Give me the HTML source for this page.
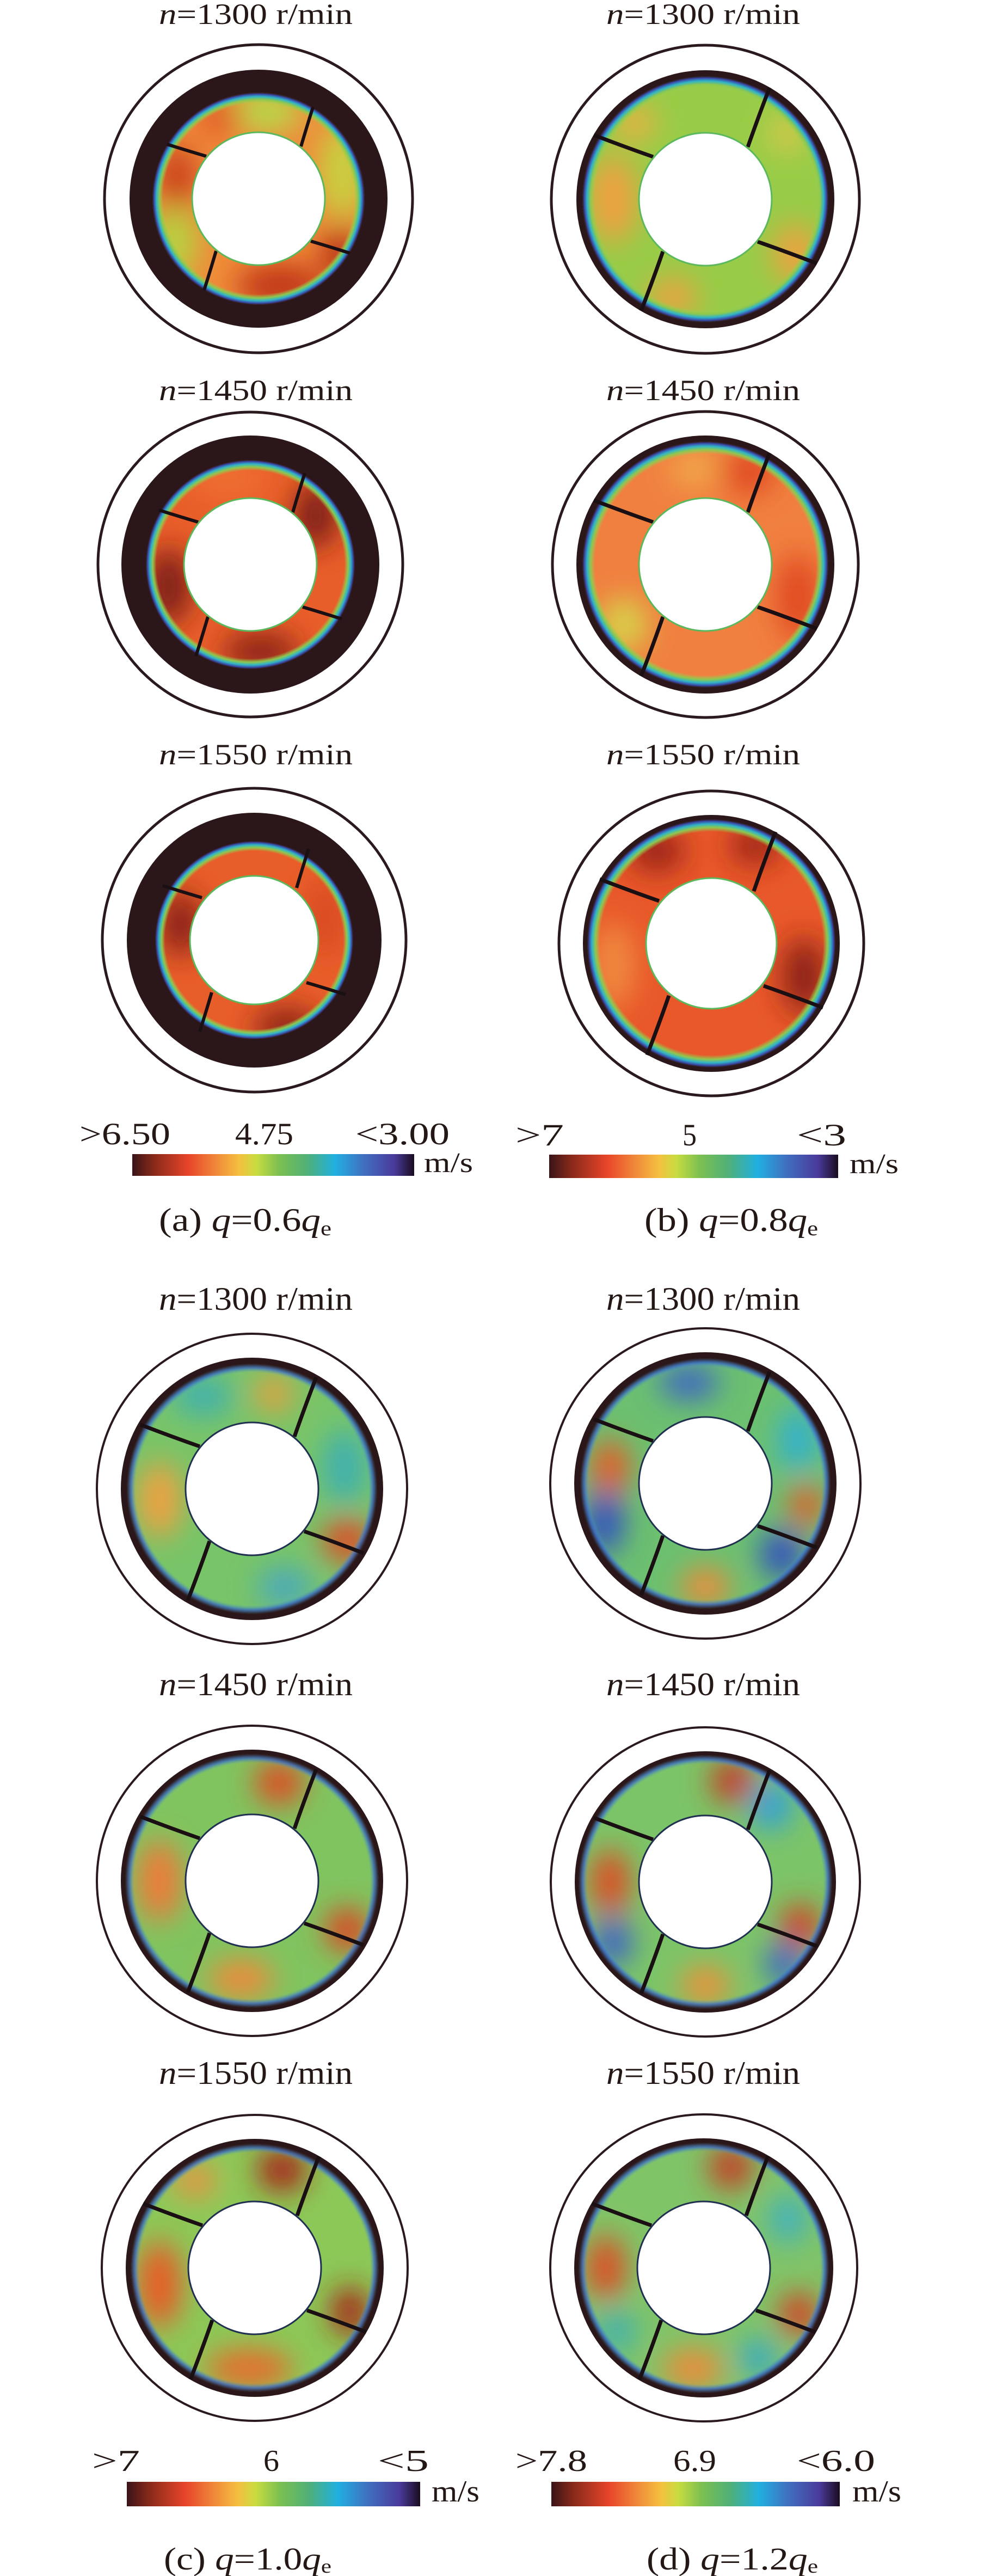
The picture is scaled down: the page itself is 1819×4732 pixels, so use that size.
<!DOCTYPE html>
<html><head><meta charset="utf-8"><style>html,body{margin:0;padding:0;background:#fff}svg{display:block}</style></head>
<body>
<svg width="1819" height="4732" viewBox="0 0 1819 4732" xmlns="http://www.w3.org/2000/svg" font-family="Liberation Serif, serif" fill="#231815">
<defs>
<filter id="bl" x="-60%" y="-60%" width="220%" height="220%"><feGaussianBlur stdDeviation="26"/></filter>
<radialGradient id="rim" cx="0.5" cy="0.5" r="0.5">
<stop offset="0.90" stop-color="#9ad050" stop-opacity="0"/>
<stop offset="0.935" stop-color="#8cc850" stop-opacity="1"/>
<stop offset="0.962" stop-color="#30b4c8"/>
<stop offset="0.985" stop-color="#3a4aa8"/>
<stop offset="1" stop-color="#2b1719"/>
</radialGradient>
<radialGradient id="rim2" cx="0.5" cy="0.5" r="0.5">
<stop offset="0.93" stop-color="#50a0c0" stop-opacity="0"/>
<stop offset="0.965" stop-color="#3a6ac0" stop-opacity="0.8"/>
<stop offset="1" stop-color="#2b1719"/>
</radialGradient>
<linearGradient id="cb" x1="0" x2="1" y1="0" y2="0">
<stop offset="0" stop-color="#3a1418"/><stop offset="0.08" stop-color="#8b2a1a"/><stop offset="0.2" stop-color="#e8452a"/>
<stop offset="0.3" stop-color="#f08a3a"/><stop offset="0.38" stop-color="#f5c040"/><stop offset="0.44" stop-color="#c8dc40"/>
<stop offset="0.52" stop-color="#7cc050"/><stop offset="0.62" stop-color="#50b078"/><stop offset="0.72" stop-color="#20b0e0"/>
<stop offset="0.82" stop-color="#4070c0"/><stop offset="0.93" stop-color="#4a3a9a"/><stop offset="1" stop-color="#1a0c20"/>
</linearGradient>
<clipPath id="k182"><circle r="182"/></clipPath>
<clipPath id="k192"><circle r="192"/></clipPath>
<clipPath id="k195"><circle r="195"/></clipPath>
<clipPath id="k226"><circle r="226"/></clipPath>
<clipPath id="k228"><circle r="228"/></clipPath>
<clipPath id="k230"><circle r="230"/></clipPath>
<clipPath id="k233"><circle r="233"/></clipPath>
<path id="blade" d="M78,-96 Q95,-145 118,-205" fill="none" stroke="#1a0f12" stroke-width="7"/>
<path id="bladeS" d="M78,-96 Q88,-130 100,-168" fill="none" stroke="#1a0f12" stroke-width="6"/>
<g id="blades"><use href="#blade"/><use href="#blade" transform="rotate(90)"/><use href="#blade" transform="rotate(180)"/><use href="#blade" transform="rotate(270)"/></g>
<g id="bladesS"><use href="#bladeS"/><use href="#bladeS" transform="rotate(90)"/><use href="#bladeS" transform="rotate(180)"/><use href="#bladeS" transform="rotate(270)"/></g>
</defs>

<g font-size="54">
<text x="292" y="44" textLength="356" lengthAdjust="spacingAndGlyphs"><tspan font-style="italic">n</tspan>=1300 r/min</text>
<text x="1114" y="44" textLength="356" lengthAdjust="spacingAndGlyphs"><tspan font-style="italic">n</tspan>=1300 r/min</text>
<text x="292" y="735" textLength="356" lengthAdjust="spacingAndGlyphs"><tspan font-style="italic">n</tspan>=1450 r/min</text>
<text x="1114" y="735" textLength="356" lengthAdjust="spacingAndGlyphs"><tspan font-style="italic">n</tspan>=1450 r/min</text>
<text x="292" y="1404" textLength="356" lengthAdjust="spacingAndGlyphs"><tspan font-style="italic">n</tspan>=1550 r/min</text>
<text x="1114" y="1404" textLength="356" lengthAdjust="spacingAndGlyphs"><tspan font-style="italic">n</tspan>=1550 r/min</text>
</g>

<!-- a1 -->
<g transform="translate(475,365)">
<circle r="283" fill="#fff" stroke="#2a1a1e" stroke-width="5"/><circle r="237" fill="#2b1719"/>
<g clip-path="url(#k195)"><circle r="195" fill="#f08a3a"/>
<g filter="url(#bl)"><ellipse cx="10" cy="-160" rx="70" ry="40" fill="#b8d848"/><ellipse cx="155" cy="-50" rx="45" ry="90" fill="#c8d040"/><ellipse cx="-155" cy="80" rx="45" ry="70" fill="#b8d040"/><ellipse cx="-150" cy="-40" rx="35" ry="60" fill="#c8401e"/><ellipse cx="40" cy="160" rx="80" ry="40" fill="#c03418"/><ellipse cx="150" cy="100" rx="35" ry="50" fill="#b83016"/><ellipse cx="-70" cy="-150" rx="40" ry="35" fill="#e05a26"/></g></g>
<circle r="195" fill="url(#rim)"/><use href="#bladesS"/>
<circle r="122" fill="#fff" stroke="#5cb85c" stroke-width="3"/></g>
<!-- b1 -->
<g transform="translate(1296,366)">
<circle r="283" fill="#fff" stroke="#2a1a1e" stroke-width="5"/><circle r="237" fill="#2b1719"/>
<g clip-path="url(#k226)"><circle r="226" fill="#98cc48"/>
<g filter="url(#bl)"><ellipse cx="-170" cy="0" rx="45" ry="80" fill="#f0a040"/><ellipse cx="165" cy="100" rx="40" ry="55" fill="#f0a040"/><ellipse cx="-60" cy="180" rx="45" ry="35" fill="#f0a040"/><ellipse cx="-130" cy="-140" rx="40" ry="35" fill="#e8b040"/><ellipse cx="150" cy="-120" rx="35" ry="35" fill="#d8c848"/></g></g>
<circle r="226" fill="url(#rim)"/><use href="#blades"/>
<circle r="122" fill="#fff" stroke="#5cb85c" stroke-width="3"/></g>
<!-- a2 -->
<g transform="translate(460,1037)">
<circle r="280" fill="#fff" stroke="#2a1a1e" stroke-width="5"/><circle r="237" fill="#2b1719"/>
<g clip-path="url(#k192)"><circle r="192" fill="#e85e2a"/>
<g filter="url(#bl)"><ellipse cx="-150" cy="40" rx="40" ry="70" fill="#7a1a14"/><ellipse cx="120" cy="-90" rx="40" ry="60" fill="#7a1a14"/><ellipse cx="20" cy="160" rx="70" ry="35" fill="#8a2016"/><ellipse cx="-40" cy="-160" rx="70" ry="35" fill="#f07030"/></g></g>
<circle r="192" fill="url(#rim)"/><use href="#bladesS"/>
<circle r="122" fill="#fff" stroke="#5cb85c" stroke-width="3"/></g>
<!-- b2 -->
<g transform="translate(1296,1037)">
<circle r="281" fill="#fff" stroke="#2a1a1e" stroke-width="5"/><circle r="237" fill="#2b1719"/>
<g clip-path="url(#k226)"><circle r="226" fill="#f08040"/>
<g filter="url(#bl)"><ellipse cx="170" cy="60" rx="40" ry="80" fill="#e04a24"/><ellipse cx="80" cy="-170" rx="50" ry="40" fill="#e04a24"/><ellipse cx="-150" cy="110" rx="45" ry="50" fill="#d8d048"/><ellipse cx="-20" cy="-175" rx="45" ry="35" fill="#f0a848"/></g></g>
<circle r="226" fill="url(#rim)"/><use href="#blades"/>
<circle r="122" fill="#fff" stroke="#5cb85c" stroke-width="3"/></g>
<!-- a3 -->
<g transform="translate(467,1727)">
<circle r="279" fill="#fff" stroke="#2a1a1e" stroke-width="5"/><circle r="234" fill="#2b1719"/>
<g clip-path="url(#k182)"><circle r="182" fill="#e85e2a"/>
<g filter="url(#bl)"><ellipse cx="-135" cy="-30" rx="40" ry="60" fill="#8a2016"/><ellipse cx="60" cy="160" rx="60" ry="35" fill="#8a2016"/><ellipse cx="130" cy="-40" rx="35" ry="70" fill="#d84a22"/></g></g>
<circle r="182" fill="url(#rim)"/><use href="#bladesS"/>
<circle r="118" fill="#fff" stroke="#5cb85c" stroke-width="3"/></g>
<!-- b3 -->
<g transform="translate(1307,1733)">
<circle r="280" fill="#fff" stroke="#2a1a1e" stroke-width="5"/><circle r="236" fill="#2b1719"/>
<g clip-path="url(#k228)"><circle r="228" fill="#e8582a"/>
<g filter="url(#bl)"><ellipse cx="170" cy="60" rx="40" ry="70" fill="#8a2014"/><ellipse cx="-100" cy="-170" rx="50" ry="40" fill="#9a2414"/><ellipse cx="80" cy="-180" rx="45" ry="35" fill="#9a2414"/><ellipse cx="-180" cy="40" rx="40" ry="80" fill="#f08a40"/></g></g>
<circle r="228" fill="url(#rim)"/><use href="#blades"/>
<circle r="120" fill="#fff" stroke="#5cb85c" stroke-width="3"/></g>

<rect x="243" y="2120" width="518" height="40" fill="url(#cb)"/>
<rect x="1009" y="2121" width="531" height="43" fill="url(#cb)"/>
<g font-size="57">
<text x="146" y="2102" textLength="167" lengthAdjust="spacingAndGlyphs">&gt;6.50</text>
<text x="432" y="2102" textLength="107" lengthAdjust="spacingAndGlyphs">4.75</text>
<text x="653" y="2102" textLength="173" lengthAdjust="spacingAndGlyphs">&lt;3.00</text>
<text x="947" y="2104" textLength="89" lengthAdjust="spacingAndGlyphs">&gt;7</text>
<text x="1254" y="2104" textLength="26" lengthAdjust="spacingAndGlyphs">5</text>
<text x="1464" y="2104" textLength="91" lengthAdjust="spacingAndGlyphs">&lt;3</text>
</g>
<g font-size="52">
<text x="779" y="2153" textLength="90" lengthAdjust="spacingAndGlyphs">m/s</text>
<text x="1561" y="2155" textLength="90" lengthAdjust="spacingAndGlyphs">m/s</text>
</g>
<g font-size="60">
<text x="292" y="2261" textLength="317" lengthAdjust="spacingAndGlyphs">(a) <tspan font-style="italic">q</tspan>=0.6<tspan font-style="italic">q</tspan><tspan font-size="38" dy="8">e</tspan></text>
<text x="1184" y="2261" textLength="319" lengthAdjust="spacingAndGlyphs">(b) <tspan font-style="italic">q</tspan>=0.8<tspan font-style="italic">q</tspan><tspan font-size="38" dy="8">e</tspan></text>
</g>

<g font-size="60">
<text x="292" y="2406" textLength="356" lengthAdjust="spacingAndGlyphs"><tspan font-style="italic">n</tspan>=1300 r/min</text>
<text x="1114" y="2406" textLength="356" lengthAdjust="spacingAndGlyphs"><tspan font-style="italic">n</tspan>=1300 r/min</text>
<text x="292" y="3114" textLength="356" lengthAdjust="spacingAndGlyphs"><tspan font-style="italic">n</tspan>=1450 r/min</text>
<text x="1114" y="3114" textLength="356" lengthAdjust="spacingAndGlyphs"><tspan font-style="italic">n</tspan>=1450 r/min</text>
<text x="292" y="3828" textLength="356" lengthAdjust="spacingAndGlyphs"><tspan font-style="italic">n</tspan>=1550 r/min</text>
<text x="1114" y="3828" textLength="356" lengthAdjust="spacingAndGlyphs"><tspan font-style="italic">n</tspan>=1550 r/min</text>
</g>

<!-- c1 -->
<g transform="translate(463,2735)">
<circle r="285" fill="#fff" stroke="#2a1a1e" stroke-width="4"/><circle r="241" fill="#2b1719"/>
<g clip-path="url(#k230)"><circle r="230" fill="#78c468"/>
<g filter="url(#bl)"><ellipse cx="170" cy="-40" rx="40" ry="70" fill="#40b0b0"/><ellipse cx="-90" cy="-170" rx="55" ry="35" fill="#40b0b0"/><ellipse cx="-170" cy="20" rx="40" ry="70" fill="#f0a040"/><ellipse cx="175" cy="95" rx="45" ry="40" fill="#e04a28"/><ellipse cx="60" cy="180" rx="50" ry="35" fill="#48a8c0"/><ellipse cx="40" cy="-175" rx="35" ry="35" fill="#e8a040"/></g></g>
<circle r="230" fill="url(#rim2)"/><use href="#blades"/>
<circle r="122" fill="#fff" stroke="#203050" stroke-width="3"/></g>
<!-- d1 -->
<g transform="translate(1296,2725)">
<circle r="285" fill="#fff" stroke="#2a1a1e" stroke-width="4"/><circle r="241" fill="#2b1719"/>
<g clip-path="url(#k230)"><circle r="230" fill="#6cc070"/>
<g filter="url(#bl)"><ellipse cx="-185" cy="70" rx="35" ry="60" fill="#3050c0"/><ellipse cx="140" cy="130" rx="40" ry="45" fill="#3050c0"/><ellipse cx="-30" cy="-185" rx="55" ry="30" fill="#3a60c8"/><ellipse cx="170" cy="-80" rx="35" ry="60" fill="#30b0d0"/><ellipse cx="-175" cy="-30" rx="35" ry="50" fill="#e85a28"/><ellipse cx="185" cy="40" rx="30" ry="40" fill="#e85a28"/><ellipse cx="0" cy="190" rx="45" ry="35" fill="#f08a38"/></g></g>
<circle r="230" fill="url(#rim2)"/><use href="#blades"/>
<circle r="122" fill="#fff" stroke="#203050" stroke-width="3"/></g>
<!-- c2 -->
<g transform="translate(463,3455)">
<circle r="285" fill="#fff" stroke="#2a1a1e" stroke-width="4"/><circle r="241" fill="#2b1719"/>
<g clip-path="url(#k233)"><circle r="233" fill="#80c460"/>
<g filter="url(#bl)"><ellipse cx="50" cy="-180" rx="45" ry="40" fill="#e04a24"/><ellipse cx="175" cy="90" rx="40" ry="40" fill="#e04020"/><ellipse cx="-170" cy="0" rx="40" ry="75" fill="#f07838"/><ellipse cx="-20" cy="180" rx="60" ry="35" fill="#f08838"/></g></g>
<circle r="233" fill="url(#rim2)"/><use href="#blades"/>
<circle r="122" fill="#fff" stroke="#203050" stroke-width="3"/></g>
<!-- d2 -->
<g transform="translate(1296,3457)">
<circle r="284" fill="#fff" stroke="#2a1a1e" stroke-width="4"/><circle r="240" fill="#2b1719"/>
<g clip-path="url(#k233)"><circle r="233" fill="#7cc468"/>
<g filter="url(#bl)"><ellipse cx="-175" cy="0" rx="35" ry="60" fill="#e04a24"/><ellipse cx="50" cy="-185" rx="40" ry="40" fill="#c83820"/><ellipse cx="175" cy="80" rx="35" ry="40" fill="#d83a20"/><ellipse cx="-170" cy="110" rx="35" ry="45" fill="#3a60c8"/><ellipse cx="120" cy="-140" rx="40" ry="45" fill="#30a0d8"/><ellipse cx="145" cy="150" rx="35" ry="40" fill="#3a68c8"/><ellipse cx="0" cy="190" rx="45" ry="35" fill="#f09038"/></g></g>
<circle r="233" fill="url(#rim2)"/><use href="#blades"/>
<circle r="122" fill="#fff" stroke="#203050" stroke-width="3"/></g>
<!-- c3 -->
<g transform="translate(468,4166)">
<circle r="281" fill="#fff" stroke="#2a1a1e" stroke-width="4"/><circle r="237" fill="#2b1719"/>
<g clip-path="url(#k228)"><circle r="228" fill="#8cc858"/>
<g filter="url(#bl)"><ellipse cx="-175" cy="30" rx="40" ry="80" fill="#e85a28"/><ellipse cx="-10" cy="185" rx="80" ry="35" fill="#e86a2a"/><ellipse cx="50" cy="-180" rx="45" ry="40" fill="#a82414"/><ellipse cx="175" cy="80" rx="35" ry="45" fill="#a82414"/><ellipse cx="-110" cy="-160" rx="40" ry="30" fill="#f09040"/></g></g>
<circle r="228" fill="url(#rim2)"/><use href="#blades"/>
<circle r="122" fill="#fff" stroke="#203050" stroke-width="3"/></g>
<!-- d3 -->
<g transform="translate(1293,4166)">
<circle r="282" fill="#fff" stroke="#2a1a1e" stroke-width="4"/><circle r="238" fill="#2b1719"/>
<g clip-path="url(#k230)"><circle r="230" fill="#80c468"/>
<g filter="url(#bl)"><ellipse cx="-180" cy="0" rx="35" ry="60" fill="#e04a24"/><ellipse cx="50" cy="-185" rx="40" ry="40" fill="#c83820"/><ellipse cx="175" cy="85" rx="35" ry="40" fill="#d83a20"/><ellipse cx="-20" cy="185" rx="55" ry="35" fill="#f08838"/><ellipse cx="155" cy="-90" rx="35" ry="45" fill="#40b0c0"/><ellipse cx="100" cy="165" rx="35" ry="35" fill="#38a8c8"/><ellipse cx="-160" cy="115" rx="35" ry="40" fill="#40b0b0"/></g></g>
<circle r="230" fill="url(#rim2)"/><use href="#blades"/>
<circle r="122" fill="#fff" stroke="#203050" stroke-width="3"/></g>

<rect x="233" y="4559" width="539" height="45" fill="url(#cb)"/>
<rect x="1013" y="4559" width="530" height="45" fill="url(#cb)"/>
<g font-size="56">
<text x="169" y="4539" textLength="88" lengthAdjust="spacingAndGlyphs">&gt;7</text>
<text x="484" y="4539" textLength="29" lengthAdjust="spacingAndGlyphs">6</text>
<text x="694" y="4539" textLength="94" lengthAdjust="spacingAndGlyphs">&lt;5</text>
<text x="947" y="4539" textLength="132" lengthAdjust="spacingAndGlyphs">&gt;7.8</text>
<text x="1237" y="4539" textLength="79" lengthAdjust="spacingAndGlyphs">6.9</text>
<text x="1464" y="4539" textLength="144" lengthAdjust="spacingAndGlyphs">&lt;6.0</text>
<text x="793" y="4595" textLength="88" lengthAdjust="spacingAndGlyphs">m/s</text>
<text x="1566" y="4595" textLength="90" lengthAdjust="spacingAndGlyphs">m/s</text>
</g>
<g font-size="58">
<text x="301" y="4720" textLength="308" lengthAdjust="spacingAndGlyphs">(c) <tspan font-style="italic">q</tspan>=1.0<tspan font-style="italic">q</tspan><tspan font-size="36" dy="6">e</tspan></text>
<text x="1188" y="4720" textLength="315" lengthAdjust="spacingAndGlyphs">(d) <tspan font-style="italic">q</tspan>=1.2<tspan font-style="italic">q</tspan><tspan font-size="36" dy="6">e</tspan></text>
</g>
</svg>
</body></html>
